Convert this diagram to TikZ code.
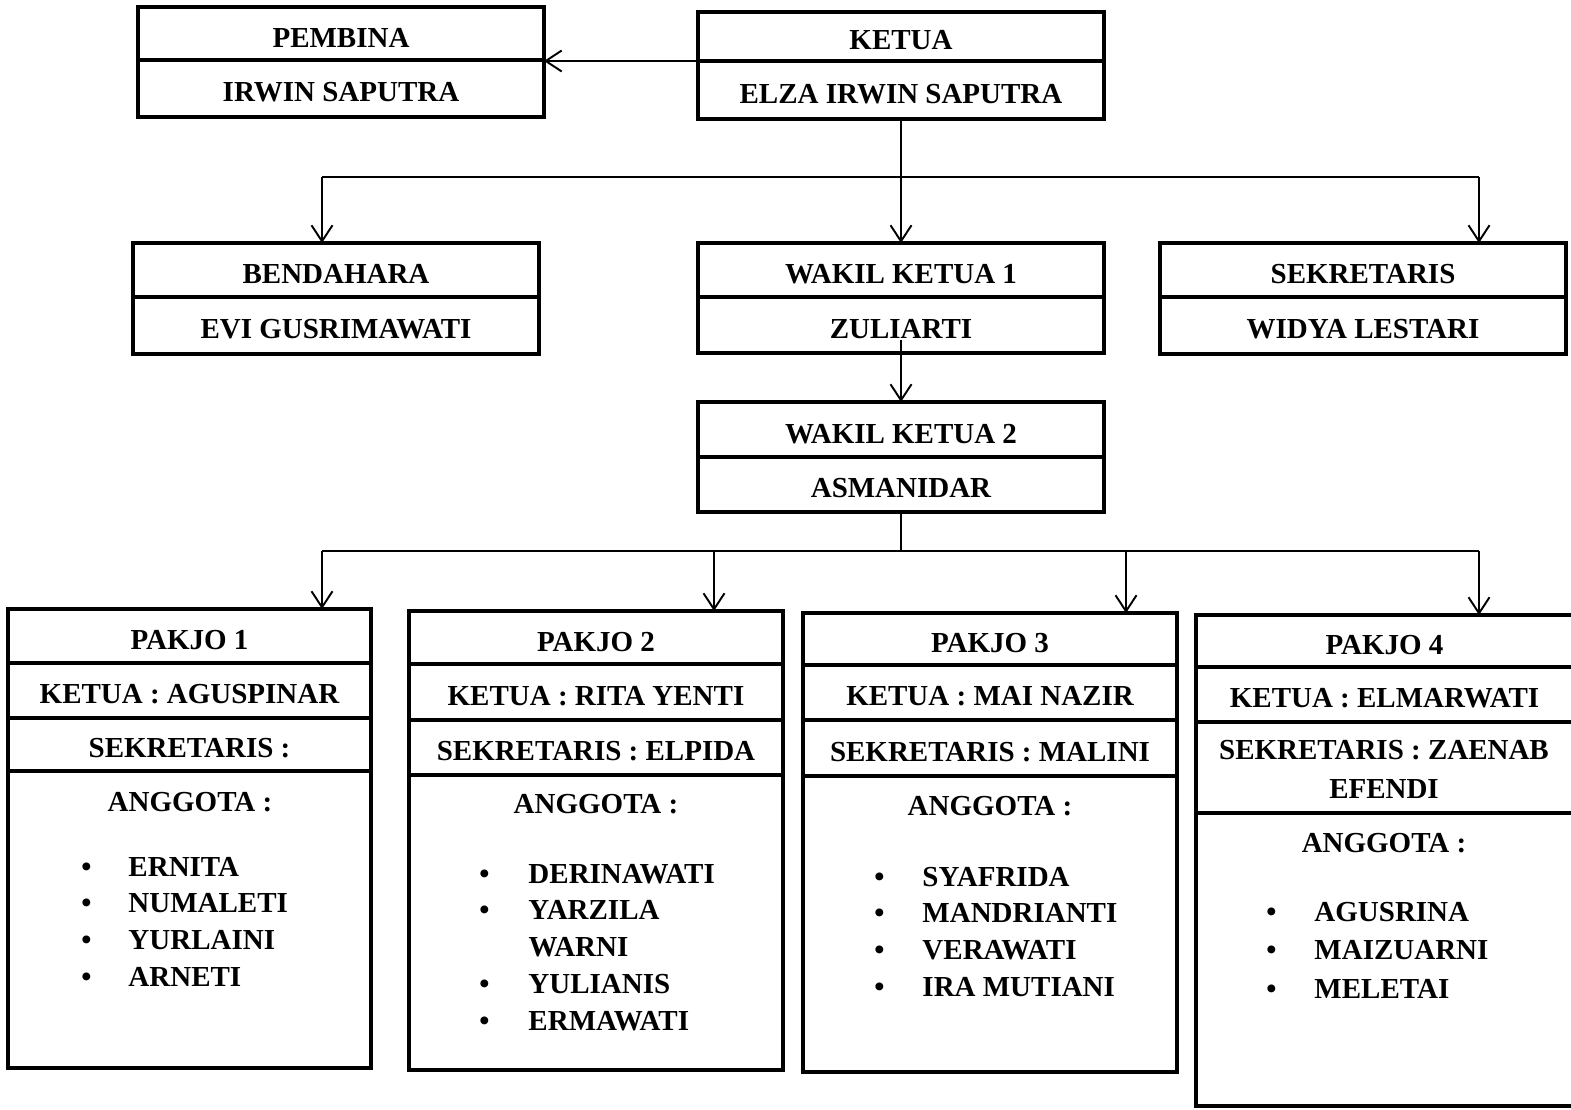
\documentclass[tikz,border=0pt]{standalone}
\usepackage{fontspec}
\setmainfont{Liberation Serif}
\usetikzlibrary{arrows.meta, positioning}

\begin{document}
\begin{tikzpicture}[
  x=0.02cm, y=-0.02cm,
  font=\fontsize{16.5}{21}\selectfont\bfseries,
  cell/.style={draw, line width=2.2pt, inner sep=0pt, outer sep=0pt, align=center,
    text height=0.54cm, text depth=0pt},
  bus/.style={line width=1.6pt},
  arr/.style={line width=1.1pt, -{Straight Barb[length=3.2mm, width=4.2mm]}},
  list/.style={anchor=base west, inner sep=0pt}]

  \useasboundingbox (0,0) rectangle (1571,1109);

  % top
  \node[cell, minimum width=8.12cm, minimum height=1.06cm] (pbt) at (341,33.5) {PEMBINA};
  \node[cell, minimum width=8.12cm, minimum height=1.14cm, below=0pt of pbt] (pbn) {IRWIN SAPUTRA};
  \node[cell, minimum width=8.12cm, minimum height=0.98cm] (kt) at (901,36.5) {KETUA};
  \node[cell, minimum width=8.12cm, minimum height=1.16cm, below=0pt of kt] (kn) {ELZA IRWIN SAPUTRA};

  % second row
  \node[cell, minimum width=8.12cm, minimum height=1.08cm] (bdt) at (336,270) {BENDAHARA};
  \node[cell, minimum width=8.12cm, minimum height=1.14cm, below=0pt of bdt] (bdn) {EVI GUSRIMAWATI};
  \node[cell, minimum width=8.12cm, minimum height=1.08cm] (wk1t) at (901,270) {WAKIL KETUA 1};
  \node[cell, minimum width=8.12cm, minimum height=1.12cm, below=0pt of wk1t] (wk1n) {ZULIARTI};
  \node[cell, minimum width=8.12cm, minimum height=1.08cm] (skt) at (1363,270) {SEKRETARIS};
  \node[cell, minimum width=8.12cm, minimum height=1.14cm, below=0pt of skt] (skn) {WIDYA LESTARI};

  \node[cell, minimum width=8.12cm, minimum height=1.10cm] (wk2t) at (901,429.5) {WAKIL KETUA 2};
  \node[cell, minimum width=8.12cm, minimum height=1.10cm, below=0pt of wk2t] (wk2n) {ASMANIDAR};

  % pakjo 1
  \node[cell, minimum width=7.26cm, minimum height=1.08cm] (p1t) at (189.5,636) {PAKJO 1};
  \node[cell, minimum width=7.26cm, minimum height=1.10cm, below=0pt of p1t] (p1k) {KETUA : AGUSPINAR};
  \node[cell, minimum width=7.26cm, minimum height=1.06cm, below=0pt of p1k] (p1s) {SEKRETARIS :};
  \node[cell, minimum width=7.26cm, minimum height=5.94cm, below=0pt of p1s] (p1a) {};
  \node (a1) at (190,802) {ANGGOTA :};
  \node[list] (m1) at (81,876) {\begin{tabular}[t]{@{}c@{\hspace{0.74cm}}l@{}}
    \textbullet & ERNITA\\ \textbullet & NUMALETI\\ \textbullet & YURLAINI\\ \textbullet & ARNETI
  \end{tabular}};

  % pakjo 2
  \node[cell, minimum width=7.48cm, minimum height=1.06cm] (p2t) at (596,637.5) {PAKJO 2};
  \node[cell, minimum width=7.48cm, minimum height=1.12cm, below=0pt of p2t] (p2k) {KETUA : RITA YENTI};
  \node[cell, minimum width=7.48cm, minimum height=1.10cm, below=0pt of p2k] (p2s) {SEKRETARIS : ELPIDA};
  \node[cell, minimum width=7.48cm, minimum height=5.90cm, below=0pt of p2s] (p2a) {};
  \node (a2) at (596,804) {ANGGOTA :};
  \node[list] (m2) at (479,883) {\begin{tabular}[t]{@{}c@{\hspace{0.78cm}}l@{}}
    \textbullet & DERINAWATI\\ \textbullet & YARZILA\\ & WARNI\\ \textbullet & YULIANIS\\ \textbullet & ERMAWATI
  \end{tabular}};

  % pakjo 3
  \node[cell, minimum width=7.48cm, minimum height=1.04cm] (p3t) at (990,639) {PAKJO 3};
  \node[cell, minimum width=7.48cm, minimum height=1.10cm, below=0pt of p3t] (p3k) {KETUA : MAI NAZIR};
  \node[cell, minimum width=7.48cm, minimum height=1.12cm, below=0pt of p3k] (p3s) {SEKRETARIS : MALINI};
  \node[cell, minimum width=7.48cm, minimum height=5.92cm, below=0pt of p3s] (p3a) {};
  \node (a3) at (990,806) {ANGGOTA :};
  \node[list] (m3) at (874,886) {\begin{tabular}[t]{@{}c@{\hspace{0.76cm}}l@{}}
    \textbullet & SYAFRIDA\\ \textbullet & MANDRIANTI\\ \textbullet & VERAWATI\\ \textbullet & IRA MUTIANI
  \end{tabular}};

  % pakjo 4
  \node[cell, minimum width=7.54cm, minimum height=1.04cm] (p4t) at (1384.5,641) {PAKJO 4};
  \node[cell, minimum width=7.54cm, minimum height=1.10cm, below=0pt of p4t] (p4k) {KETUA : ELMARWATI};
  \node[cell, minimum width=7.54cm, minimum height=1.82cm, below=0pt of p4k] (p4s) {};
  \node[align=center] (p4st) at (1384,769.5) {SEKRETARIS : ZAENAB\\[1pt] EFENDI};
  \node[cell, minimum width=7.54cm, minimum height=5.86cm, below=0pt of p4s] (p4a) {};
  \node (a4) at (1384,843) {ANGGOTA :};
  \node[list] (m4) at (1266,921) {\begin{tabular}[t]{@{}c@{\hspace{0.76cm}}l@{}}
    \textbullet & AGUSRINA\\[1pt] \textbullet & MAIZUARNI\\[1pt] \textbullet & MELETAI
  \end{tabular}};

  % lines
  \coordinate (b1) at (901,177);
  \coordinate (b1l) at (322,177);
  \coordinate (b1r) at (1479,177);
  \coordinate (b2) at (901,551);
  \coordinate (b2l) at (322,551);
  \coordinate (b2a) at (714,551);
  \coordinate (b2b) at (1126,551);
  \coordinate (b2r) at (1479,551);

  \draw[arr] (kt.south west) -- (kt.south west -| pbt.east);
  \draw[bus] (kn.south) -- (b1);
  \draw[bus] (b1l) -- (b1r);
  \draw[arr] (b1l) -- (b1l |- bdt.north);
  \draw[arr] (b1) -- (wk1t.north);
  \draw[arr] (b1r) -- (b1r |- skt.north);
  \draw[arr] ([yshift=-0.3cm]wk1n.center) -- (wk2t.north);
  \draw[bus] (wk2n.south) -- (b2);
  \draw[bus] (b2l) -- (b2r);
  \draw[arr] (b2l) -- (b2l |- p1t.north);
  \draw[arr] (b2a) -- (b2a |- p2t.north);
  \draw[arr] (b2b) -- (b2b |- p3t.north);
  \draw[arr] (b2r) -- (b2r |- p4t.north);
\end{tikzpicture}
\end{document}
